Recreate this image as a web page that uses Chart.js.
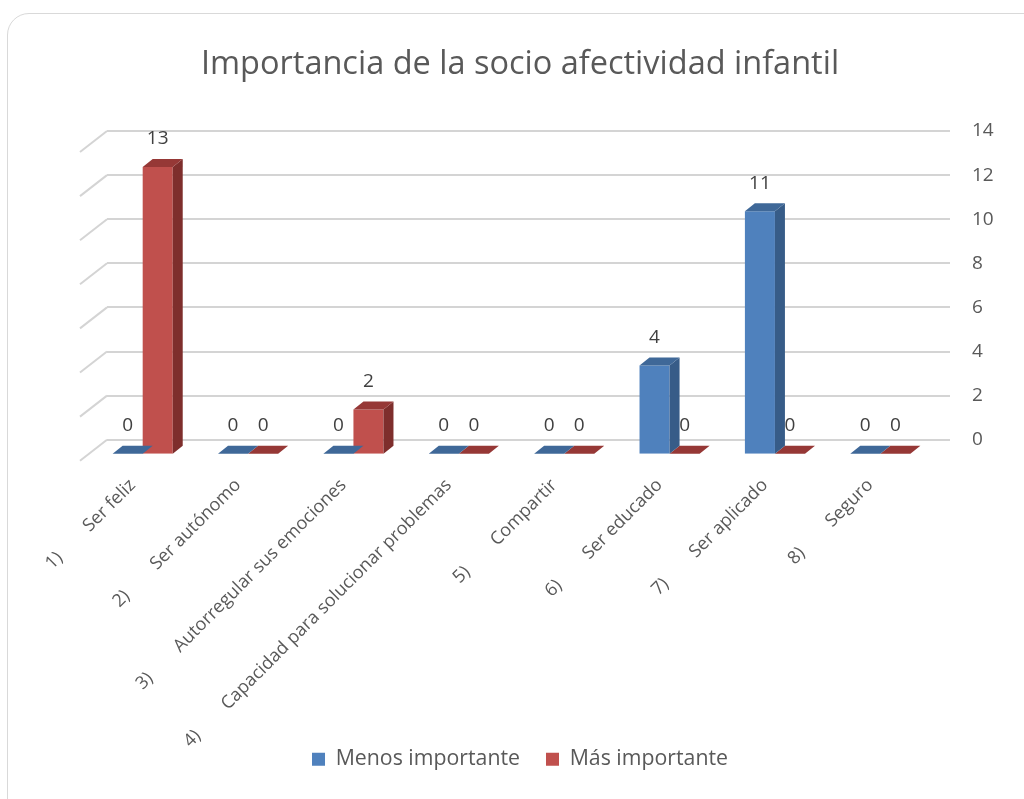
<!DOCTYPE html>
<html>
<head>
<meta charset="utf-8">
<script src="https://cdn.jsdelivr.net/npm/chart.js@4.4.1/dist/chart.umd.min.js"></script>
<style>
  html, body { margin: 0; padding: 0; background: #fff; overflow: hidden; }
  #wrap { position: relative; width: 1024px; height: 799px; }
  #frame {
    position: absolute; left: 7px; top: 13px; width: 1040px; height: 820px;
    border: 1.5px solid #d9d9d9; border-radius: 22px; box-sizing: border-box;
  }
  #chart { position: absolute; left: 0; top: 0; }
</style>
</head>
<body>
<div id="wrap">
  <div id="frame"></div>
  <canvas id="chart" width="1024" height="799"></canvas>
</div>
<script>
// chart data
const categories = [
    '1)        Ser feliz',
    '2)        Ser autónomo',
    '3)        Autorregular sus emociones',
    '4)        Capacidad para solucionar problemas',
    '5)        Compartir',
    '6)        Ser educado',
    '7)        Ser aplicado',
    '8)        Seguro'
];
const menosImportante = [0, 0, 0, 0, 0, 4, 11, 0];
const masImportante = [13, 0, 2, 0, 0, 0, 0, 0];
const yTicks = [0, 2, 4, 6, 8, 10, 12, 14];

const FONT = "'Open Sans', 'DejaVu Sans', sans-serif";
const textColor = '#595959';

// 3d look: front plane offset from the back wall, and bar depth
const front = { dx: -17, dy: 14 };
const depth = { dx: 10, dy: -8 };

const shades = {
    blue: { side: '#375C88', top: '#3F6898' },
    red: { side: '#7E2E2C', top: '#963836' }
};

const threeD = {
    id: 'threeD',
    beforeDraw(chart) {
        // side wall edges on the left of each gridline
        const { ctx, chartArea } = chart;
        const y = chart.scales.y;
        ctx.save();
        ctx.strokeStyle = '#d4d4d4';
        ctx.lineWidth = 2;
        yTicks.forEach(v => {
            const py = y.getPixelForValue(v);
            ctx.beginPath();
            ctx.moveTo(chartArea.left, py);
            ctx.lineTo(chartArea.left - 27, py + 21);
            ctx.stroke();
        });
        ctx.restore();
    },
    beforeDatasetsDraw(chart) {
        chart.ctx.save();
        chart.ctx.translate(front.dx, front.dy);
    },
    afterDatasetDraw(chart, args) {
        const { ctx } = chart;
        const meta = args.meta;
        const sh = args.index === 0 ? shades.blue : shades.red;
        meta.data.forEach(bar => {
            const l = bar.x - bar.width / 2, r = bar.x + bar.width / 2;
            const t = bar.y, b = bar.base;
            // side face
            ctx.fillStyle = sh.side;
            ctx.beginPath();
            ctx.moveTo(r, t);
            ctx.lineTo(r + depth.dx, t + depth.dy);
            ctx.lineTo(r + depth.dx, b + depth.dy);
            ctx.lineTo(r, b);
            ctx.closePath();
            ctx.fill();
            // top face
            ctx.fillStyle = sh.top;
            ctx.beginPath();
            ctx.moveTo(l, t);
            ctx.lineTo(l + depth.dx, t + depth.dy);
            ctx.lineTo(r + depth.dx, t + depth.dy);
            ctx.lineTo(r, t);
            ctx.closePath();
            ctx.fill();
        });
    },
    afterDatasetsDraw(chart) {
        const { ctx } = chart;
        ctx.font = '19px ' + FONT;
        ctx.fillStyle = '#404040';
        ctx.textAlign = 'center';
        ctx.textBaseline = 'middle';
        chart.data.datasets.forEach((ds, i) => {
            chart.getDatasetMeta(i).data.forEach((bar, j) => {
                ctx.fillText(String(ds.data[j]), bar.x, bar.y - 28);
            });
        });
        ctx.restore();
    }
};

new Chart(document.getElementById('chart'), {
    type: 'bar',
    data: {
        labels: categories,
        datasets: [
            {
                label: 'Menos importante',
                data: menosImportante,
                backgroundColor: '#4F81BD'
            },
            {
                label: 'Más importante',
                data: masImportante,
                backgroundColor: '#C0504D'
            }
        ]
    },
    options: {
        responsive: false,
        animation: false,
        events: [],
        categoryPercentage: 0.57,
        barPercentage: 1,
        layout: { padding: { left: 40, right: 24, top: 0, bottom: 19 } },
        scales: {
            x: {
                grid: { display: false, drawTicks: false },
                border: { display: false },
                ticks: {
                    color: textColor,
                    font: { family: FONT, size: 18 },
                    minRotation: 45,
                    maxRotation: 45,
                    autoSkip: false,
                    padding: 35,
                    labelOffset: -27
                },
                afterFit(scale) {
                    scale.height = 283;
                    // the long rotated labels reach below the axis box, do not clip them
                    scale._computeLabelArea = () => null;
                }
            },
            // empty spacer on the left, leaves room for the side wall
            spacer: {
                position: 'left',
                grid: { display: false, drawTicks: false },
                border: { display: false },
                ticks: { display: false },
                afterFit(scale) { scale.width = 67; }
            },
            y: {
                position: 'right',
                min: 0,
                max: 14,
                grid: { color: '#d4d4d4', lineWidth: 2, drawTicks: false },
                border: { display: false },
                afterBuildTicks(scale) { scale.ticks = yTicks.map(v => ({ value: v })); },
                ticks: {
                    color: textColor,
                    font: { family: FONT, size: 19 },
                    padding: 22
                },
                afterFit(scale) { scale.width = 50; }
            }
        },
        plugins: {
            title: {
                display: true,
                text: 'Importancia de la socio afectividad infantil',
                color: textColor,
                font: { family: FONT, size: 32.5, weight: 'normal' },
                padding: { top: 45, bottom: 47 }
            },
            legend: {
                position: 'bottom',
                labels: {
                    color: textColor,
                    font: { family: FONT, size: 21.3 },
                    boxWidth: 13,
                    boxHeight: 13,
                    padding: 26
                }
            },
            tooltip: { enabled: false }
        }
    },
    plugins: [threeD]
});
</script>
</body>
</html>
